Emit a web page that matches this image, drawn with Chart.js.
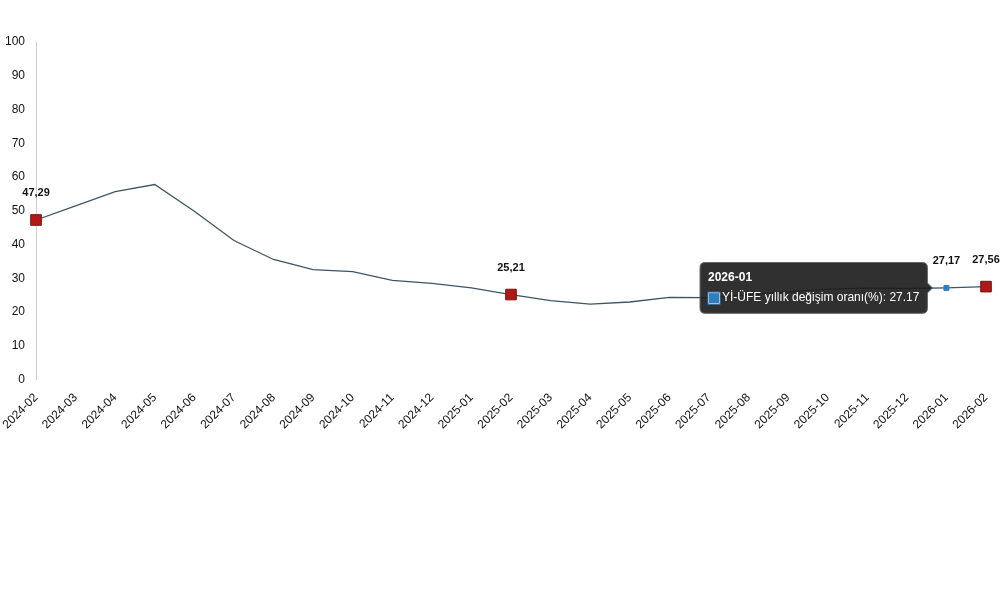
<!DOCTYPE html>
<html>
<head>
<meta charset="utf-8">
<script src="https://cdn.jsdelivr.net/npm/chart.js@4"></script>
<style>
  body { margin: 0; background: #fff; }
  #wrap { width: 1000px; height: 593px; }
</style>
</head>
<body>
<div id="wrap"><canvas id="c"></canvas></div>
<script>
const labels = ['2024-02','2024-03','2024-04','2024-05','2024-06','2024-07','2024-08','2024-09','2024-10','2024-11','2024-12','2025-01',
  '2025-02','2025-03','2025-04','2025-05','2025-06','2025-07','2025-08','2025-09','2025-10','2025-11','2025-12','2026-01','2026-02'];
const values = [47.29, 51.5, 55.7, 57.8, 49.9, 41.2, 35.6, 32.6, 32.0, 29.4, 28.5, 27.2,
  25.21, 23.4, 22.4, 23.0, 24.4, 24.3, 25.2, 26.0, 26.8, 27.1, 27.0, 27.17, 27.56];
const highlighted = [0, 12, 24, 23];
const seriesName = 'Yİ-ÜFE yıllık değişim oranı(%)';
const font = 'Arial, "Liberation Sans", sans-serif';

const valueLabels = {
  id: 'valueLabels',
  afterDatasetsDraw(chart) {
    const ctx = chart.ctx;
    const meta = chart.getDatasetMeta(0);
    ctx.save();
    ctx.font = 'bold 11px ' + font;
    ctx.fillStyle = '#111';
    ctx.textAlign = 'center';
    highlighted.forEach(i => {
      const p = meta.data[i];
      ctx.fillText(values[i].toFixed(2).replace('.', ','), p.x, p.y - 24);
    });
    ctx.restore();
  }
};

const chart = new Chart(document.getElementById('c'), {
  type: 'line',
  data: {
    labels: labels,
    datasets: [{
      label: seriesName,
      data: values,
      borderColor: '#3d5566',
      borderWidth: 1.3,
      tension: 0,
      pointStyle: 'rect',
      pointRadius: values.map((v, i) => i === 23 ? 3.5 : (highlighted.includes(i) ? 7.5 : 0)),
      pointBackgroundColor: values.map((v, i) => i === 23 ? '#2f7fc0' : '#b01818'),
      pointBorderColor: values.map((v, i) => i === 23 ? '#2f7fc0' : '#7a1010'),
      pointBorderWidth: 1,
      pointHoverRadius: 3.5
    }]
  },
  options: {
    responsive: true,
    maintainAspectRatio: false,
    animation: false,
    events: [],
    layout: { padding: { left: 2, right: 14, top: 42, bottom: 158 } },
    scales: {
      x: {
        grid: { display: false },
        border: { display: false },
        ticks: { color: '#111', maxRotation: 45, minRotation: 45, autoSkip: false,
          font: { size: 12, family: font } }
      },
      y: {
        min: 0, max: 100,
        grid: { display: false },
        border: { display: true, color: '#ccc' },
        ticks: { stepSize: 10, color: '#111', font: { size: 12, family: font } }
      }
    },
    plugins: {
      legend: { display: false },
      tooltip: {
        backgroundColor: 'rgba(30,30,30,0.92)',
        borderColor: '#666',
        borderWidth: 1,
        xAlign: 'right',
        yAlign: 'center',
        caretPadding: 14,
        titleFont: { weight: 'bold', size: 12, family: font },
        bodyFont: { size: 12, family: font },
        padding: 8,
        cornerRadius: 5,
        callbacks: {
          label: c => c.dataset.label + ': ' + c.parsed.y,
          labelColor: () => ({ borderColor: '#2f7fc0', backgroundColor: '#2f7fc0' })
        }
      }
    }
  },
  plugins: [valueLabels]
});
chart.tooltip.setActiveElements([{ datasetIndex: 0, index: 23 }], { x: 0, y: 0 });
chart.update();
</script>
</body>
</html>
